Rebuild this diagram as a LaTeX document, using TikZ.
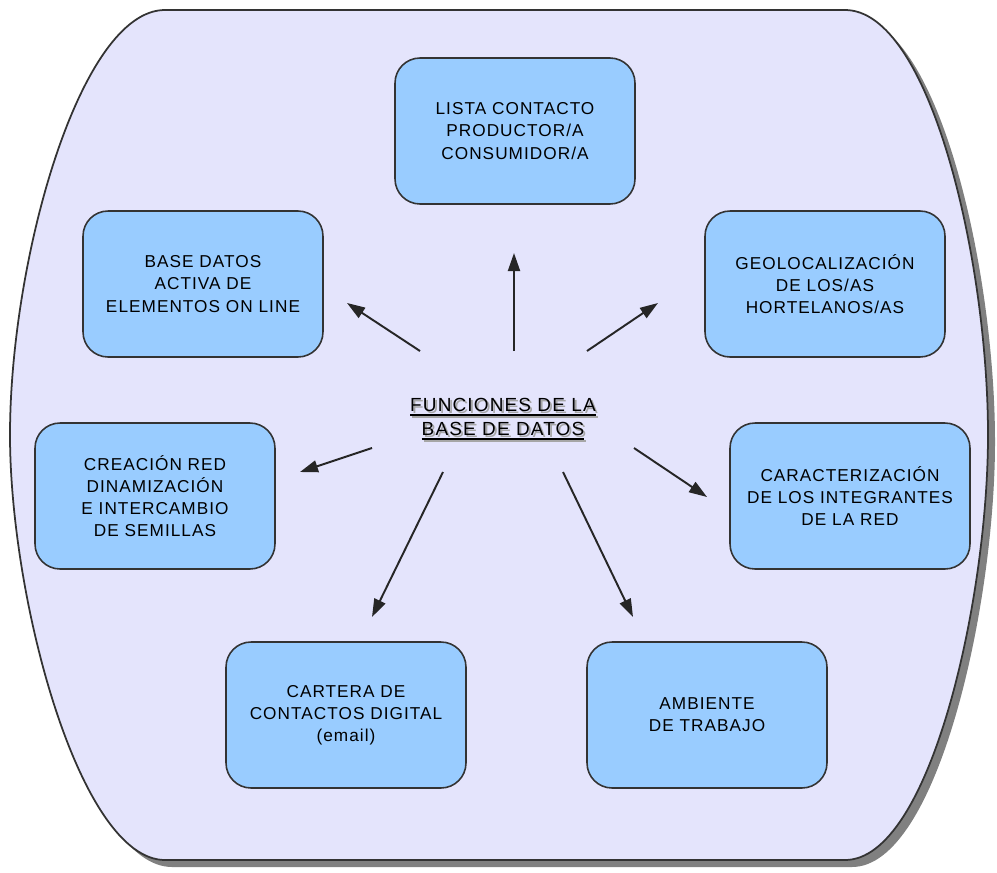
\documentclass[tikz,border=0pt]{standalone}
\usepackage{fontspec}
\usetikzlibrary{arrows.meta}
\newfontfamily\boxfont{Liberation Sans}[LetterSpace=6]
\definecolor{bgfill}{HTML}{E4E4FC}
\definecolor{boxfill}{HTML}{99CCFF}
\definecolor{edgecol}{HTML}{333333}
\definecolor{shadecol}{HTML}{808080}
\newcommand{\ulab}[1]{\setbox0\hbox{#1}\leavevmode\rlap{\rule[-2.6pt]{\wd0}{0.9pt}}\box0}
\tikzset{
  func/.style={draw=edgecol, line width=0.9pt, fill=boxfill, rounded corners=0.5cm,
    minimum width=4.8cm, minimum height=2.92cm, align=center, inner sep=0pt,
    font=\boxfont\fontsize{9.8}{12.6}\selectfont},
  title/.style={align=center, inner sep=0pt, font=\boxfont\fontsize{10.8}{13.7}\selectfont},
  link/.style={line width=1.1pt, draw=black!85, -{Triangle[length=0.36cm,width=0.24cm]}}
}
\begin{document}
\begin{tikzpicture}[x=0.02cm,y=-0.02cm]
\useasboundingbox (0,0) rectangle (997,872);
% outer shape shadow
\fill[shadecol] ([shift={(7,7)}]165,10) -- ([shift={(7,7)}]845,10)
  .. controls ([shift={(7,7)}]930,10) and ([shift={(7,7)}]988,260) .. ([shift={(7,7)}]988,435)
  .. controls ([shift={(7,7)}]988,600) and ([shift={(7,7)}]930,860) .. ([shift={(7,7)}]845,860)
  -- ([shift={(7,7)}]165,860)
  .. controls ([shift={(7,7)}]80,860) and ([shift={(7,7)}]10,600) .. ([shift={(7,7)}]10,435)
  .. controls ([shift={(7,7)}]10,260) and ([shift={(7,7)}]80,10) .. cycle;
% outer shape
\filldraw[fill=bgfill, draw=edgecol, line width=1pt] (165,10) -- (845,10)
  .. controls (930,10) and (988,260) .. (988,435)
  .. controls (988,600) and (930,860) .. (845,860)
  -- (165,860)
  .. controls (80,860) and (10,600) .. (10,435)
  .. controls (10,260) and (80,10) .. cycle;

% boxes
\node[func] (lista) at (515,131) {LISTA CONTACTO\\PRODUCTOR/A\\CONSUMIDOR/A};
\node[func] (base) at (203,284) {BASE DATOS\\ACTIVA DE\\ELEMENTOS ON LINE};
\node[func] (geo) at (825,284) {GEOLOCALIZACIÓN\\DE LOS/AS\\HORTELANOS/AS};
\node[func] (creacion) at (155,496) {CREACIÓN RED\\DINAMIZACIÓN\\E INTERCAMBIO\\DE SEMILLAS};
\node[func] (caract) at (850,496) {CARACTERIZACIÓN\\DE LOS INTEGRANTES\\DE LA RED};
\node[func] (cartera) at (346,715) {CARTERA DE\\CONTACTOS DIGITAL\\(email)};
\node[func] (ambiente) at (707,715) {AMBIENTE\\DE TRABAJO};

% central label
\node[title, text=black!35] (centershadow) at (505,421) {\ulab{FUNCIONES DE LA}\\\ulab{BASE DE DATOS}};
\node[title] (center) at (503,419) {\ulab{FUNCIONES DE LA}\\\ulab{BASE DE DATOS}};

% connector ends
\coordinate (s1) at (420,351); \coordinate (t1) at (347,303);
\coordinate (s2) at (514,351); \coordinate (t2) at (514,253);
\coordinate (s3) at (587,351); \coordinate (t3) at (658,303);
\coordinate (s4) at (372,448); \coordinate (t4) at (300,472);
\coordinate (s5) at (634,448); \coordinate (t5) at (707,497);
\coordinate (s6) at (443,472); \coordinate (t6) at (372,617);
\coordinate (s7) at (563,472); \coordinate (t7) at (633,617);
\foreach \i in {1,...,7} { \draw[link] (s\i) -- (t\i); }
\end{tikzpicture}
\end{document}
